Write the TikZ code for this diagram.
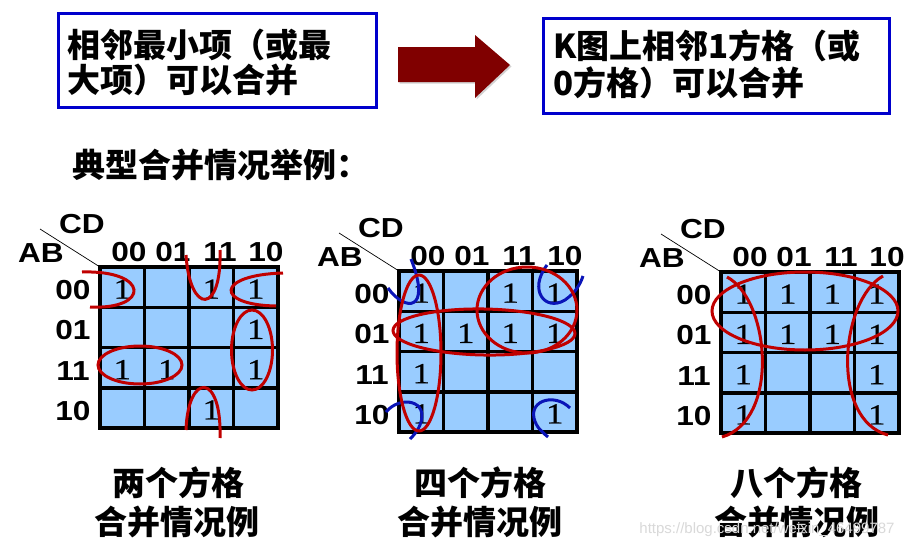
\documentclass[tikz,border=0pt]{standalone}
\usepackage{fontspec}
\newfontfamily\cjk{Noto Sans CJK SC}
\newfontfamily\arialb{Liberation Sans}[FakeStretch=1.15]
\newfontfamily\timesf{Liberation Serif}[FakeStretch=1.2,FakeBold=0.6]
\newfontfamily\wmfont{Liberation Sans}
\definecolor{boxblue}{HTML}{0000CC}
\definecolor{arrowred}{HTML}{800000}
\definecolor{loopred}{HTML}{C00000}
\definecolor{loopblue}{HTML}{0A14B8}
\definecolor{cellfill}{HTML}{99CCFF}
\tikzset{
  bluebox/.style={draw=boxblue, line width=3pt, anchor=north west, inner sep=0pt},
  cjktext/.style={font=\cjk\bfseries\fontsize{33}{35}\selectfont, inner sep=0pt},
  hdr/.style={font=\arialb\bfseries\fontsize{27.5}{27.5}\selectfont, inner sep=0pt},
  one/.style={font=\timesf\fontsize{29}{29}\selectfont, inner sep=0pt},
  gridline/.style={line width=3.5pt, black},
  redloop/.style={draw=loopred, line width=3pt},
  blueloop/.style={draw=loopblue, line width=3pt},
}
\newcommand\kmapdraw[4]{%
  \begin{scope}[shift={(#2,#3)}]
    \fill[cellfill] (0,0) rectangle (178,161);
    \foreach \i in {1,2,3} {
      \draw[gridline] ({\i*44.5},0) -- ({\i*44.5},161);
      \draw[gridline] (0,{\i*40.25}) -- (178,{\i*40.25});
    }
    \draw[gridline] (0,0) rectangle (178,161);
    \foreach \t/\xx [count=\i] in {00/29,01/73,11/120,10/166}
      \node[hdr] (#1col\i) at (\xx,-15) {\t};
    \foreach \t [count=\i] in {00,01,11,10}
      \node[hdr] (#1row\i) at (-27,{(\i-0.5)*40.25+3}) {\t};
    \node[hdr] (#1cd) at (-18,-43) {CD};
    \node[hdr] (#1ab) at (-59,-14) {AB};
    \coordinate (#1dgA) at (-60,-38);
    \coordinate (#1dgB) at (0,0);
    \draw[black, line width=0.7pt] (#1dgA) -- (#1dgB);
    \foreach \r/\c in {#4}
      \node[one] (#1one\r\c) at ({(\c+0.5)*44.5},{(\r+0.5)*40.25+2}) {1};
  \end{scope}}
\begin{document}
\begin{tikzpicture}[x=1pt,y=-1pt]
\useasboundingbox (0,0) rectangle (914,549);
\fill[white] (0,0) rectangle (914,549);

% top boxes
\node[bluebox, minimum width=318pt, minimum height=94pt] (box1) at (57,12) {};
\node[cjktext, anchor=west] (b1l1) at (67,45) {相邻最小项（或最};
\node[cjktext, anchor=west] (b1l2) at (67,80) {大项）可以合并};

\node[bluebox, minimum width=346pt, minimum height=95pt] (box2) at (542,17) {};
\node[cjktext, anchor=west] (b2l1) at (553,46) {K图上相邻1方格（或};
\node[cjktext, anchor=west] (b2l2) at (553,83) {0方格）可以合并};

% block arrow
\fill[gray!35] (399.5,48.5) -- (476.5,48.5) -- (476.5,36.5) -- (511.5,66.5) -- (476.5,99.5) -- (476.5,83.5) -- (399.5,83.5) -- cycle;
\fill[arrowred] (398,47) -- (475,47) -- (475,35) -- (510,65) -- (475,98) -- (475,82) -- (398,82) -- cycle;

\node[cjktext, anchor=west] (title) at (72,165) {典型合并情况举例：};

% maps
\kmapdraw{ma}{100}{267}{0/0,0/2,0/3,1/3,2/0,2/1,2/3,3/2}
\kmapdraw{mb}{399}{271}{0/0,0/2,0/3,1/0,1/1,1/2,1/3,2/0,3/0,3/3}
\kmapdraw{mc}{721}{272}{0/0,0/1,0/2,0/3,1/0,1/1,1/2,1/3,2/0,2/3,3/0,3/3}

% map 1 loops
\draw[redloop] (82,272) .. controls (150,270) and (150,310) .. (90,307);
\draw[redloop] (186,255) .. controls (190,315) and (222,315) .. (220,250);
\draw[redloop] (283,273) .. controls (215,275) and (215,305) .. (276,306);
\draw[redloop] (140,365) ellipse [x radius=42, y radius=19];
\draw[redloop] (252,350) ellipse [x radius=20.5, y radius=40];
\draw[redloop] (186,430) .. controls (188,372) and (222,372) .. (220,438);

% map 2 loops
\draw[blueloop] (388,288) .. controls (405,312) and (432,312) .. (411,259);
\draw[blueloop] (547,265) .. controls (528,290) and (545,312) .. (565,300) .. controls (575,293) and (580,285) .. (583,276);
\draw[blueloop] (386,412) .. controls (400,395) and (430,400) .. (420,425) .. controls (417,432) and (413,436) .. (410,439);
\draw[blueloop] (570,408) .. controls (555,393) and (530,400) .. (534,418) .. controls (536,427) and (542,432) .. (548,437);
\draw[redloop] (419,353) ellipse [x radius=22, y radius=78];
\draw[redloop, rotate around={-1:(484,332)}] (484,332) ellipse [x radius=91, y radius=23];
\draw[redloop] (527,310) ellipse [x radius=50, y radius=43];

% map 3 loops
\draw[redloop] (805,311) ellipse [x radius=93, y radius=39];
\draw[redloop] (727,277) .. controls (770,300) and (780,420) .. (722,437);
\draw[redloop] (883,276) .. controls (840,300) and (830,420) .. (888,435);

% captions
\node[cjktext] (c1a) at (178,483) {两个方格};
\node[cjktext] (c1b) at (177,522) {合并情况例};
\node[cjktext] (c2a) at (480,483) {四个方格};
\node[cjktext] (c2b) at (480,522) {合并情况例};
\node[cjktext] (c3a) at (796,483) {八个方格};
\node[cjktext] (c3b) at (797,522) {合并情况例};

\node[text=gray!30, font=\wmfont\fontsize{15}{15}\selectfont, inner sep=0pt] (wm) at (767,530) {https://blog.csdn.net/weixin\_46499787};
\end{tikzpicture}
\end{document}
